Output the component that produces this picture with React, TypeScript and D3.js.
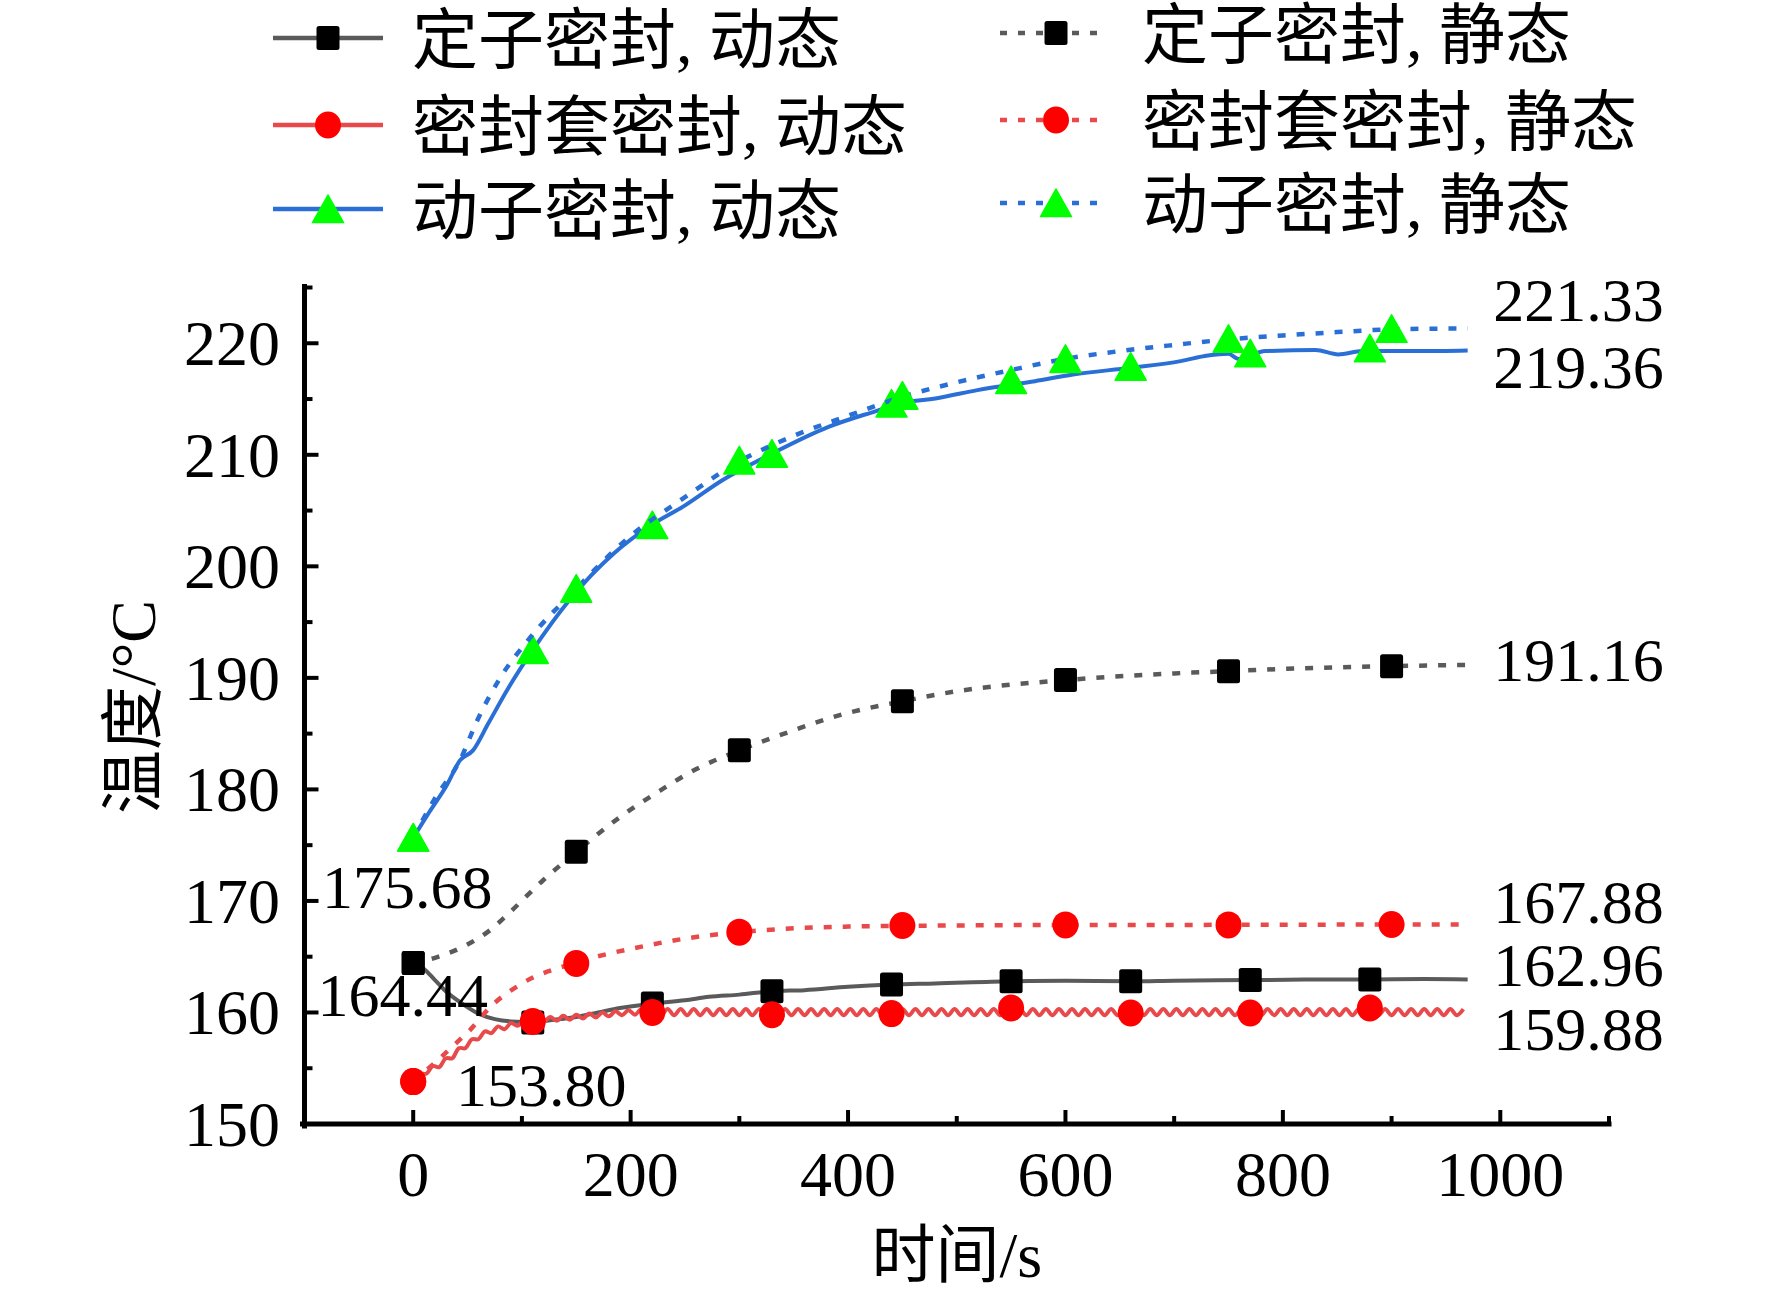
import React from 'react';
import * as d3 from 'd3';

const W = 1772;
const H = 1297;

// ---------- data ----------
const dynMarkerTimes = [0, 110, 220, 330, 440, 550, 660, 770, 880];
const staMarkerTimes = [0, 150, 300, 450, 600, 750, 900];

// 定子密封, 动态
const statorDynT = [0, 10, 20, 30, 45, 60, 75, 90, 110, 130, 150, 170, 190, 220, 250, 272, 300, 330, 360, 400, 440, 480, 550, 600, 660, 700, 770, 820, 880, 930, 970];
const statorDynV = [164.44, 163.9, 162.9, 161.9, 160.8, 159.9, 159.4, 159.2, 159.15, 159.35, 159.6, 160.0, 160.4, 160.8, 161.1, 161.4, 161.6, 161.9, 162.0, 162.3, 162.5, 162.6, 162.8, 162.85, 162.8, 162.85, 162.9, 162.95, 162.96, 163.0, 162.96];
const statorDynMarkers = [164.44, 159.1, 160.8, 161.9, 162.5, 162.8, 162.8, 162.9, 162.96];

// 密封套密封, 动态 (sampled every 6 s)
const sleeveDynStep = 6;
const sleeveDynV = [
  153.8, 154.5, 154.5, 155.2, 155.1, 155.9, 155.9, 156.8, 156.8, 157.6,
  157.6, 158.3, 158.15, 158.75, 158.5, 159.05, 158.8, 159.3, 159.0, 159.5,
  159.15, 159.6, 159.25, 159.7, 159.35, 159.8, 159.45, 159.9, 159.55, 160.0,
  159.65, 160.1, 159.75, 160.2, 159.8,
  160.3, 159.75, 160.3, 159.75, 160.3, 159.75, 160.3, 159.75, 160.3, 159.75,
  160.3, 159.75, 160.3, 159.75, 160.3, 159.75, 160.3, 159.75, 160.3, 159.75,
  160.3, 159.75, 160.3, 159.75, 160.3, 159.75, 160.3, 159.75, 160.3, 159.75,
  160.3, 159.75, 160.3, 159.75, 160.3, 159.75, 160.3, 159.75, 160.3, 159.75,
  160.3, 159.75, 160.3, 159.75, 160.3, 159.75, 160.3, 159.75, 160.3, 159.75,
  160.3, 159.75, 160.3, 159.75, 160.3, 159.75, 160.3, 159.75, 160.3, 159.75,
  160.3, 159.75, 160.3, 159.75, 160.3, 159.75, 160.3, 159.75, 160.3, 159.75,
  160.3, 159.75, 160.3, 159.75, 160.3, 159.75, 160.3, 159.75, 160.3, 159.75,
  160.3, 159.75, 160.3, 159.75, 160.3, 159.75, 160.3, 159.75, 160.3, 159.75,
  160.3, 159.75, 160.3, 159.75, 160.3, 159.75, 160.3, 159.75, 160.3, 159.75,
  160.3, 159.75, 160.3, 159.75, 160.3, 159.75, 160.3, 159.75, 160.3, 159.75,
  160.3, 159.75, 160.3, 159.75, 160.3, 159.75, 160.3, 159.75, 160.3, 159.75,
  160.3, 159.75, 160.3, 159.75, 160.3, 159.75, 160.3
];
const sleeveDynMarkers = [153.8, 159.2, 160.0, 159.8, 159.9, 160.4, 159.95, 159.95, 160.4];

// 动子密封, 动态
const moverDynT = [0, 15, 31, 43, 55, 69, 87, 110, 143, 185, 219, 249, 284, 330, 382, 425, 448, 483, 519, 572, 607, 660, 706, 731, 750, 759, 784, 830, 851, 873, 925, 970];
const moverDynV = [175.68, 178.0, 180.4, 182.6, 183.5, 185.9, 189.0, 192.5, 196.9, 201.2, 203.7, 205.4, 207.7, 210.1, 212.5, 213.9, 214.6, 215.1, 215.8, 216.6, 217.2, 217.8, 218.4, 218.9, 219.05, 218.6, 219.3, 219.4, 219.0, 219.3, 219.3, 219.36];
const moverDynMarkers = [175.68, 192.5, 203.7, 210.1, 214.6, 216.7, 217.9, 219.1, 219.55];

// 定子密封, 静态
const statorStaT = [0, 20, 46, 71, 88, 120, 150, 190, 224, 260, 300, 350, 390, 450, 500, 600, 700, 750, 800, 900, 970];
const statorStaV = [164.44, 164.9, 165.9, 167.4, 168.9, 171.9, 174.4, 177.5, 179.7, 181.8, 183.5, 185.3, 186.6, 187.9, 188.8, 189.8, 190.4, 190.6, 190.8, 191.05, 191.16];
const statorStaMarkers = [164.44, 174.4, 183.5, 187.9, 189.8, 190.6, 191.05];

// 密封套密封, 静态
const sleeveStaT = [0, 20, 40, 52, 71, 100, 147, 210, 252, 300, 400, 500, 600, 700, 800, 900, 970];
const sleeveStaV = [153.8, 155.5, 157.3, 158.4, 160.5, 162.6, 164.4, 165.9, 166.65, 167.2, 167.7, 167.8, 167.85, 167.85, 167.87, 167.88, 167.88];
const sleeveStaMarkers = [153.8, 164.4, 167.2, 167.8, 167.85, 167.85, 167.88];

// 动子密封, 静态
const moverStaT = [0, 20, 43, 59, 80, 105, 150, 196, 250, 300, 350, 400, 450, 500, 550, 600, 650, 700, 750, 800, 850, 900, 970];
const moverStaV = [175.68, 179.2, 182.6, 186.2, 190.0, 193.3, 198.0, 202.4, 206.2, 209.4, 211.7, 213.5, 215.2, 216.5, 217.6, 218.6, 219.3, 219.85, 220.35, 220.7, 221.0, 221.25, 221.33];
const moverStaMarkers = [175.68, 198.0, 209.5, 215.3, 218.6, 220.4, 221.3];

const seriesNames = ['定子密封, 动态', '密封套密封, 动态', '动子密封, 动态', '定子密封, 静态', '密封套密封, 静态', '动子密封, 静态'];

const yTicks = [150, 160, 170, 180, 190, 200, 210, 220];
const yMinorTicks = [155, 165, 175, 185, 195, 205, 215, 225];
const xTicks = [0, 200, 400, 600, 800, 1000];
const xMinorTicks = [100, 300, 500, 700, 900, 1100];

const endLabels = ['221.33', '219.36', '191.16', '167.88', '162.96', '159.88'];
const endVals = [221.33, 219.36, 191.16, 167.88, 162.96, 159.88];
const startLabels = ['175.68', '164.44', '153.80'];
const startVals = [175.68, 164.44, 153.8];

// ---------- styles ----------
const GRAY = '#5a5a5a';
const RED = '#e84a4c';
const BLUE = '#2a6fd6';
const FONT = "'Liberation Serif', 'Times New Roman', 'Noto Sans CJK SC', serif";
const DASH = '8,11';

type Marker = 'square' | 'circle' | 'triangle';

function MarkerShape({ type, x, y }: { type: Marker; x: number; y: number }) {
  if (type === 'square') {
    return <rect x={x - 11.5} y={y - 12} width={23} height={24} rx={2.5} fill="#000" />;
  }
  if (type === 'circle') {
    return <ellipse cx={x} cy={y} rx={13} ry={13.5} fill="#ff0000" />;
  }
  return (
    <path
      d={`M${x},${y - 14} L${x + 15.5},${y + 13.5} L${x - 15.5},${y + 13.5} Z`}
      fill="#00ff00"
      stroke="#00ff00"
      strokeWidth={1.5}
      strokeLinejoin="round"
    />
  );
}

export default function App() {
  React.useEffect(() => {
    document.body.style.margin = '0';
  }, []);

  const x = d3.scaleLinear().domain([-100, 1100]).range([304.5, 1609]);
  const y = d3.scaleLinear().domain([150, 225]).range([1124, 287.5]);

  const zip = (t: number[], v: number[]) => t.map((tt, i) => [tt, v[i]] as [number, number]);
  const smooth = d3.line<[number, number]>().x(d => x(d[0])).y(d => y(d[1])).curve(d3.curveMonotoneX);
  const wavy = d3.line<[number, number]>().x(d => x(d[0])).y(d => y(d[1])).curve(d3.curveCatmullRom.alpha(0.5));

  const sleeveDynPts = sleeveDynV.map((v, i) => [i * sleeveDynStep, v] as [number, number]);

  const series = [
    { name: seriesNames[0], color: GRAY, marker: 'square' as Marker, dashed: false, path: smooth(zip(statorDynT, statorDynV)), mt: dynMarkerTimes, mv: statorDynMarkers },
    { name: seriesNames[1], color: RED, marker: 'circle' as Marker, dashed: false, path: wavy(sleeveDynPts), mt: dynMarkerTimes, mv: sleeveDynMarkers },
    { name: seriesNames[2], color: BLUE, marker: 'triangle' as Marker, dashed: false, path: smooth(zip(moverDynT, moverDynV)), mt: dynMarkerTimes, mv: moverDynMarkers },
    { name: seriesNames[3], color: GRAY, marker: 'square' as Marker, dashed: true, path: smooth(zip(statorStaT, statorStaV)), mt: staMarkerTimes, mv: statorStaMarkers },
    { name: seriesNames[4], color: RED, marker: 'circle' as Marker, dashed: true, path: smooth(zip(sleeveStaT, sleeveStaV)), mt: staMarkerTimes, mv: sleeveStaMarkers },
    { name: seriesNames[5], color: BLUE, marker: 'triangle' as Marker, dashed: true, path: smooth(zip(moverStaT, moverStaV)), mt: staMarkerTimes, mv: moverStaMarkers },
  ];

  // legend layout
  const legendCols = [
    { x0: 273, x1: 383, textX: 412, rows: [38, 125, 209] },
    { x0: 1000, x1: 1106, textX: 1142, rows: [33, 120, 203] },
  ];

  const numFs = 62;
  const axisFs = 64;

  // annotation placement (relative to the scales)
  const endX = x(1000) - 7;
  const endOffsets = [-28, 17.5, -4, -22, -13.5, 16];
  const startPos = [
    { lx: 322, dy: 49.5 },
    { lx: 317.5, dy: 33 },
    { lx: 456, dy: 3.5 },
  ];

  const x0 = x(-100);
  const yBase = y(150);

  return (
    <svg width={W} height={H} viewBox={`0 0 ${W} ${H}`} style={{ position: 'absolute', left: 0, top: 0, background: '#fff' }} fontFamily={FONT}>
      <rect x={0} y={0} width={W} height={H} fill="#fff" />

      {/* lines */}
      {series.map((s, i) => (
        <g key={'s' + i}>
          <path
            d={s.path || ''}
            fill="none"
            stroke={s.color}
            strokeWidth={s.dashed ? 4.5 : 4}
            strokeDasharray={s.dashed ? DASH : undefined}
            strokeLinejoin="round"
          />
          {s.mt.map((t, j) => (
            <MarkerShape key={j} type={s.marker} x={x(t)} y={y(s.mv[j])} />
          ))}
        </g>
      ))}

      {/* axes */}
      <g stroke="#000" strokeLinecap="square">
        <line x1={x0} y1={y(225) - 1} x2={x0} y2={yBase + 2} strokeWidth={5} />
        <line x1={x0 - 2} y1={yBase} x2={x(1100)} y2={yBase} strokeWidth={5} />
        {yTicks.map(v => (
          <line key={'yt' + v} x1={x0} x2={x0 + 12} y1={y(v)} y2={y(v)} strokeWidth={4} />
        ))}
        {yMinorTicks.map(v => (
          <line key={'ym' + v} x1={x0} x2={x0 + 6} y1={y(v)} y2={y(v)} strokeWidth={4} />
        ))}
        {xTicks.map(v => (
          <line key={'xt' + v} x1={x(v)} x2={x(v)} y1={yBase} y2={yBase - 12} strokeWidth={4} />
        ))}
        {xMinorTicks.map(v => (
          <line key={'xm' + v} x1={x(v)} x2={x(v)} y1={yBase} y2={yBase - 6} strokeWidth={4} />
        ))}
      </g>

      {/* tick labels */}
      <g fontSize={axisFs} fill="#000">
        {yTicks.map(v => (
          <text key={'yl' + v} x={280} y={y(v) + 0.34 * axisFs} textAnchor="end">{v}</text>
        ))}
        {xTicks.map(v => (
          <text key={'xl' + v} x={x(v)} y={1196} textAnchor="middle">{v}</text>
        ))}
      </g>

      {/* axis titles */}
      <text x={x(500)} y={1277} fontSize={64} textAnchor="middle" fill="#000">时间/s</text>
      <text transform="translate(155,707) rotate(-90)" fontSize={64} textAnchor="middle" fill="#000">温度/°C</text>

      {/* value annotations */}
      <g fontSize={numFs} fill="#000">
        {endLabels.map((t, i) => (
          <text key={'el' + i} x={endX} y={y(endVals[i]) + endOffsets[i] + 0.33 * numFs}>{t}</text>
        ))}
        {startLabels.map((t, i) => (
          <text key={'sl' + i} x={startPos[i].lx} y={y(startVals[i]) + startPos[i].dy + 0.33 * numFs}>{t}</text>
        ))}
      </g>

      {/* legend */}
      {series.map((s, i) => {
        const col = legendCols[i < 3 ? 0 : 1];
        const ry = col.rows[i % 3];
        const mx = (col.x0 + col.x1) / 2 + (i < 3 ? 0 : 3);
        return (
          <g key={'lg' + i}>
            <line
              x1={col.x0}
              x2={col.x1}
              y1={ry}
              y2={ry}
              stroke={s.color}
              strokeWidth={4.5}
              strokeDasharray={s.dashed ? '7,11' : undefined}
            />
            <MarkerShape type={s.marker} x={mx} y={ry} />
            <text x={col.textX} y={ry + 25} fontSize={66} fill="#000">{s.name}</text>
          </g>
        );
      })}
    </svg>
  );
}
